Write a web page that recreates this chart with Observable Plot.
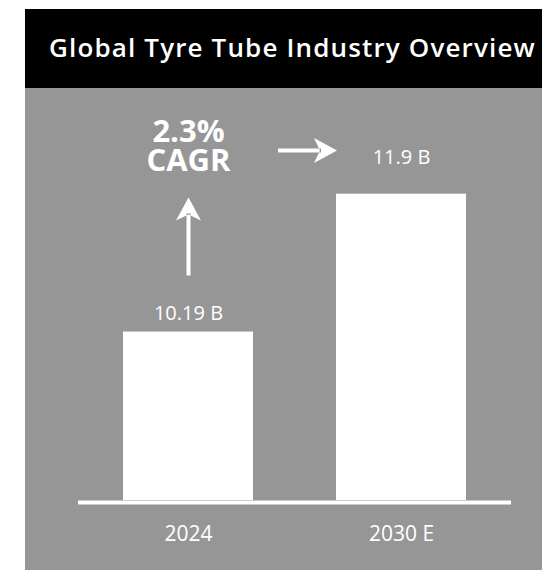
<!DOCTYPE html>
<html><head><meta charset="utf-8">
<script src="https://cdn.jsdelivr.net/npm/d3@7"></script>
<script src="https://cdn.jsdelivr.net/npm/@observablehq/plot@0.6"></script>
<style>
body{margin:0;background:#fff;}
#wrap{position:absolute;left:25px;top:9px;width:517px;}
#title{background:#000;color:#fff;height:79px;line-height:77px;font-family:"Open Sans";font-weight:600;font-size:26px;letter-spacing:1.15px;padding-left:24px;white-space:nowrap;box-sizing:border-box;overflow:hidden;}
#chart svg{display:block;background:#969696;}
</style></head><body>
<div id="wrap"><div id="title">Global Tyre Tube Industry Overview</div><div id="chart"></div></div>
<script>
const years = ["2024", "2030 E"];
const values = [10.19, 11.9];
const valueLabels = ["10.19 B", "11.9 B"];
const cagrValue = "2.3%";
const cagrText = "CAGR";
const yDomain = [8.1, 13];

const data = years.map((year, i) => ({year, value: values[i], label: valueLabels[i]}));

const arrowShape = {
  draw(ctx, l) {
    const h = 23, w = 12.5, n = 6;
    ctx.moveTo(-2, 0);
    ctx.lineTo(2, 0);
    ctx.lineTo(2, -(l - h + n) - 1);
    ctx.lineTo(-2, -(l - h + n) - 1);
    ctx.closePath();
    ctx.moveTo(0, -l);
    ctx.lineTo(w, -l + h);
    ctx.lineTo(0, -l + h - n);
    ctx.lineTo(-w, -l + h);
    ctx.closePath();
  }
};

const chart = Plot.plot({
  width: 517,
  height: 482,
  marginTop: 17,
  marginBottom: 70,
  marginLeft: 53,
  marginRight: 31,
  x: {domain: years, paddingInner: 0.39, paddingOuter: 0.2113},
  y: {domain: yDomain, axis: null},
  style: {fontFamily: "Open Sans", color: "white", background: "#969696"},
  marks: [
    Plot.barY(data, {x: "year", y1: yDomain[0], y2: "value", fill: "white"}),
    Plot.ruleY([yDomain[0]], {stroke: "white", strokeWidth: 4, dy: 2}),
    Plot.axisX({tickSize: 0, tickPadding: 26, fontSize: 21, fill: "white", label: null}),
    Plot.text([data[0]], {x: "year", y: "value", text: "label", lineAnchor: "bottom", dy: -12, fontSize: 20, fill: "white"}),
    Plot.text([data[1]], {x: "year", y: "value", text: "label", lineAnchor: "bottom", dy: -30, fontSize: 20, fill: "white"}),
    Plot.text([{year: years[0], value: values[1], t: cagrValue}], {
      x: "year", y: "value", text: "t", lineAnchor: "bottom", dy: -52,
      fontSize: 31, fontWeight: 700, fill: "white"
    }),
    Plot.text([{year: years[0], value: values[1], t: cagrText}], {
      x: "year", y: "value", text: "t", lineAnchor: "bottom", dy: -23,
      fontSize: 31, fontWeight: 700, fill: "white"
    }),
    Plot.vector([data[0]], {x: "year", y: "value", dy: -56.5, length: 78, rotate: 0, anchor: "start", shape: arrowShape, fill: "white", stroke: "none"}),
    Plot.vector([{year: years[0], value: values[1]}], {x: "year", y: "value", dx: 89.5, dy: -43.7, length: 59, rotate: 90, anchor: "start", shape: arrowShape, fill: "white", stroke: "none"})
  ]
});
document.getElementById("chart").appendChild(chart);
</script>
</body></html>
